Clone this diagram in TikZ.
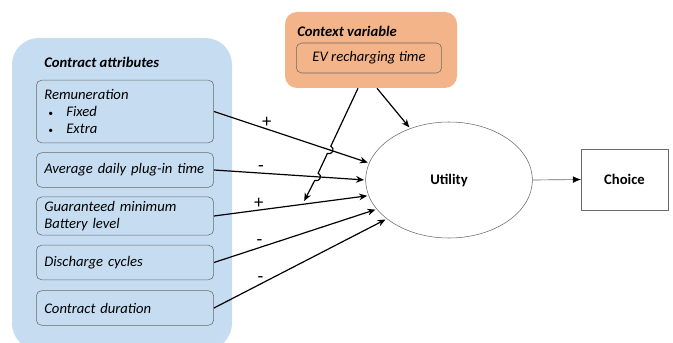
\documentclass[tikz,border=0pt]{standalone}
\usepackage{fontspec}
\setmainfont{Carlito}
\usetikzlibrary{arrows.meta,shapes.geometric,calc,intersections}
\definecolor{attrblue}{RGB}{197,220,241}
\definecolor{ctxorange}{RGB}{243,180,138}
\definecolor{boxgray}{RGB}{105,105,105}
\newcommand{\figfont}{\fontsize{11}{12.5}\selectfont}
\newcommand{\attrbullet}{\hspace*{3pt}{\scriptsize\textbullet}\hspace{10pt}}
\tikzset{
  group/.style={fill=attrblue, rounded corners=20pt, inner sep=0pt},
  grouptitle/.style={anchor=west, inner sep=0pt, font=\figfont\bfseries\itshape},
  attr/.style={draw=boxgray, fill=attrblue, rounded corners=4pt, text width=121pt,
    inner xsep=6pt, minimum height=26pt, align=left, font=\figfont\itshape},
  infl/.style={-{Stealth[length=6pt,width=5pt]}, line width=0.9pt, shorten >=1pt},
  sign/.style={above, inner sep=1pt, font=\fontsize{14}{14}\selectfont}
}
\begin{document}
\begin{tikzpicture}[x=0.75pt,y=-0.75pt, font=\figfont]
  \useasboundingbox (0,0) rectangle (673,342);
  % contract attributes
  \node[group, minimum width=165pt, minimum height=234pt] (attrs) at (122,194) {};
  \node[grouptitle] (attrtitle) at (44,62) {Contract attributes};
  \node[attr, minimum height=47pt] (rem) at (125,111.5)
    {Remuneration\\ \attrbullet Fixed\\ \attrbullet Extra};
  \node[attr] (plug) at (125,170) {Average daily plug-in time};
  \node[attr] (batt) at (125,216) {Guaranteed minimum\\Battery level};
  \node[attr] (cyc) at (125,262.5) {Discharge cycles};
  \node[attr] (dur) at (125,308) {Contract duration};
  % context variable
  \node[fill=ctxorange, rounded corners=9pt, minimum width=129pt, minimum height=57pt] (ctx) at (371,50) {};
  \node[grouptitle] (ctxtitle) at (297,31) {Context variable};
  \node[draw=boxgray, rounded corners=4pt, minimum width=109pt, minimum height=22.5pt, font=\figfont\itshape] (ev) at (369,58) {EV recharging time};
  % utility and choice
  \node[ellipse, draw=boxgray, minimum width=125pt, minimum height=87pt, inner sep=0pt, font=\figfont\bfseries] (util) at (449,180) {Utility};
  \node[draw=boxgray, minimum width=65pt, minimum height=46pt, font=\figfont\bfseries] (choice) at (624.5,179.5) {Choice};
  \draw[-{Latex[length=6pt,width=5pt,color=black]}, draw=boxgray, line width=0.5pt] (util.east) -- (choice.west);
  \begin{scope}[black]
    \draw[infl, name path=remline] (rem.east) -- node[sign, pos=.34] {+} (util.168);
    \draw[infl, name path=plugline] (plug.east) -- node[sign, pos=.31] {-} (util.180);
    \draw[infl] (batt.east) -- node[sign, pos=.29] {+} coordinate[pos=.58] (battmid) (util.191);
    \draw[infl] (cyc.east) -- node[sign, pos=.28] {-} (util.202);
    \draw[infl] (dur.east) -- node[sign, pos=.27] {-} (util.212);
    \draw[infl] ($(ctx.south)+(6,0)$) -- (util.127);
    % moderating arrow, hopping over the two crossings
    \coordinate (ctxout) at ($(ctx.south)+(-13,0)$);
    \path[name path=modline] (ctxout) -- (battmid);
    \path[name intersections={of=modline and remline, by=hopa}];
    \path[name intersections={of=modline and plugline, by=hopb}];
    \draw[infl] let \p1=($(battmid)-(ctxout)$), \n1={atan2(\y1,\x1)} in
      (ctxout) -- ($(hopa)!3pt!(ctxout)$) arc[start angle=\n1+180, end angle=\n1, radius=3pt]
      -- ($(hopb)!3pt!(ctxout)$) arc[start angle=\n1+180, end angle=\n1, radius=3pt]
      -- ($(battmid)+(0,-2)$);
  \end{scope}
\end{tikzpicture}
\end{document}
